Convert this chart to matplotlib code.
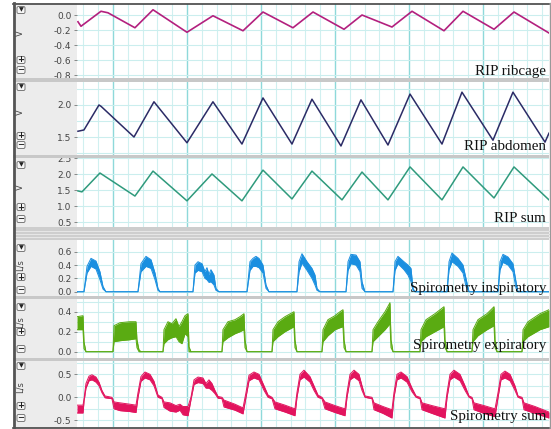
import matplotlib.pyplot as plt
from matplotlib.patches import Rectangle, FancyBboxPatch
from matplotlib.ticker import MultipleLocator, FormatStrFormatter

plt.rcParams['axes.unicode_minus'] = False

# time axis in s, one major grid line per second
T0, T1 = 0.514, 6.892

# RIP ribcage (V)
t_rib = [0.527, 0.568, 0.838, 0.932, 1.297, 1.541, 2.0, 2.351, 2.757, 3.027, 3.432,
         3.703, 4.122, 4.365, 4.770, 5.041, 5.473, 5.730, 6.149, 6.419, 6.892]
v_rib = [-0.09, -0.15, 0.05, 0.03, -0.17, 0.07, -0.23, -0.01, -0.21, 0.04, -0.17,
         0.04, -0.19, 0.00, -0.16, 0.05, -0.21, 0.05, -0.19, 0.04, -0.24]

# RIP abdomen (V)
t_abd = [0.527, 0.608, 0.811, 0.838, 1.284, 1.554, 2.0, 2.351, 2.743, 3.027, 3.419,
         3.689, 4.081, 4.351, 4.716, 5.014, 5.446, 5.716, 6.135, 6.405, 6.838, 6.892]
v_abd = [1.59, 1.61, 2.00, 1.98, 1.50, 2.05, 1.41, 2.05, 1.39, 2.11, 1.39,
         2.09, 1.36, 2.08, 1.375, 2.17, 1.39, 2.20, 1.45, 2.20, 1.42, 1.56]

# RIP sum (V)
t_sum = [0.527, 0.581, 0.824, 1.297, 1.541, 2.0, 2.338, 2.743, 3.027, 3.419, 3.689,
         4.095, 4.365, 4.716, 5.014, 5.446, 5.730, 6.149, 6.419, 6.892]
v_sum = [1.48, 1.45, 2.04, 1.32, 2.10, 1.17, 2.01, 1.17, 2.13, 1.23, 2.10,
         1.20, 2.07, 1.20, 2.23, 1.20, 2.23, 1.26, 2.23, 1.20]

# Spirometry inspiratory (L/s), upper / lower edge of the noisy band
t_insp = [0.514, 0.608, 0.649, 0.703, 0.770, 0.824, 0.865, 0.905,
          1.338, 1.378, 1.446, 1.514, 1.568, 1.608, 1.635,
          2.081, 2.108, 2.149, 2.203, 2.243, 2.270, 2.297, 2.324, 2.365, 2.392, 2.432,
          2.811, 2.851, 2.892, 2.932, 2.973, 3.027, 3.068, 3.108,
          3.486, 3.514, 3.554, 3.622, 3.689, 3.730, 3.757, 3.797,
          4.149, 4.176, 4.216, 4.284, 4.338, 4.365, 4.405,
          4.784, 4.811, 4.851, 4.932, 4.986, 5.027, 5.054, 5.081,
          5.514, 5.541, 5.581, 5.662, 5.730, 5.770, 5.811,
          6.203, 6.230, 6.270, 6.338, 6.405, 6.446, 6.473, 6.892]
insp_hi = [0, 0, .38, .50, .46, .30, .08, 0,
           0, .42, .53, .48, .28, .05, 0,
           0, .40, .45, .42, .30, .36, .26, .33, .25, .05, 0,
           0, .45, .50, .53, .50, .40, .10, 0,
           0, .45, .57, .45, .35, .25, .05, 0,
           0, .45, .56, .55, .45, .15, 0,
           0, .45, .53, .45, .40, .35, .05, 0,
           0, .45, .58, .50, .40, .20, 0,
           0, .45, .56, .52, .42, .15, 0, 0]
insp_lo = [0, 0, .28, .38, .34, .18, .04, 0,
           0, .30, .38, .35, .18, .02, 0,
           0, .28, .32, .30, .20, .18, .14, .15, .10, .02, 0,
           0, .32, .38, .38, .36, .28, .05, 0,
           0, .30, .43, .32, .20, .10, .02, 0,
           0, .32, .42, .40, .30, .05, 0,
           0, .32, .42, .33, .25, .15, .02, 0,
           0, .33, .45, .38, .28, .08, 0,
           0, .33, .44, .40, .30, .05, 0, 0]

# Spirometry expiratory (L/s)
t_exp = [0.514, 0.595, 0.608, 0.635,
         1.000, 1.014, 1.095, 1.230, 1.311, 1.324, 1.351, 1.378,
         1.676, 1.689, 1.743, 1.797, 1.851, 1.892, 1.932, 1.973, 2.014, 2.027, 2.054,
         2.473, 2.486, 2.554, 2.649, 2.716, 2.770, 2.784, 2.811,
         3.149, 3.162, 3.230, 3.324, 3.446, 3.459, 3.486,
         3.824, 3.838, 3.905, 4.000, 4.068, 4.108, 4.122, 4.149,
         4.500, 4.514, 4.581, 4.676, 4.743, 4.757, 4.784,
         5.149, 5.162, 5.230, 5.351, 5.473, 5.486, 5.514,
         5.851, 5.865, 5.932, 6.054, 6.149, 6.162, 6.189,
         6.527, 6.541, 6.608, 6.770, 6.892]
exp_hi = [.35, .36, .10, 0,
          0, .26, .29, .30, .30, .12, .02, 0,
          0, .22, .30, .28, .33, .25, .30, .36, .38, .05, 0,
          0, .22, .30, .32, .35, .38, .12, 0,
          0, .22, .30, .35, .40, .12, 0,
          0, .22, .32, .36, .40, .42, .12, 0,
          0, .22, .30, .40, .49, .12, 0,
          0, .22, .32, .38, .45, .12, 0,
          0, .22, .32, .38, .45, .12, 0,
          0, .22, .30, .38, .42]
exp_lo = [.22, .22, .03, 0,
          0, .10, .11, .12, .13, .04, 0, 0,
          0, .08, .12, .14, .15, .10, .08, .18, .15, 0, 0,
          0, .10, .14, .18, .20, .22, .04, 0,
          0, .10, .15, .20, .25, .04, 0,
          0, .10, .16, .22, .24, .25, .04, 0,
          0, .10, .15, .22, .28, .04, 0,
          0, .10, .15, .20, .25, .04, 0,
          0, .10, .16, .22, .26, .04, 0,
          0, .10, .15, .22, .25]

# Spirometry sum (L/s)
t_sp = [0.514, 0.595, 0.608, 0.635, 0.676, 0.716, 0.770, 0.811, 0.851, 0.892, 0.986,
        1.014, 1.095, 1.230, 1.311, 1.338, 1.378, 1.432, 1.500, 1.554, 1.608, 1.662,
        1.689, 1.770, 1.851, 1.905, 1.946, 2.014, 2.054, 2.095, 2.149, 2.216, 2.257,
        2.297, 2.338, 2.378, 2.419, 2.473, 2.500, 2.649, 2.757, 2.797, 2.838, 2.905,
        2.973, 3.041, 3.095, 3.149, 3.189, 3.324, 3.459, 3.486, 3.527, 3.581, 3.662,
        3.716, 3.770, 3.824, 3.865, 4.000, 4.135, 4.162, 4.203, 4.257, 4.324, 4.365,
        4.405, 4.500, 4.527, 4.649, 4.770, 4.797, 4.838, 4.892, 4.973, 5.041, 5.095,
        5.149, 5.176, 5.311, 5.486, 5.514, 5.554, 5.608, 5.689, 5.757, 5.811, 5.851,
        5.878, 6.014, 6.162, 6.203, 6.243, 6.297, 6.365, 6.432, 6.473, 6.527, 6.554,
        6.703, 6.892]
sp_hi = [-.17, -.17, -.05, .30, .46, .49, .44, .33, .15, .03, .00,
         -.10, -.12, -.15, -.17, .10, .45, .55, .50, .35, .05, .00,
         -.10, -.12, -.18, -.15, -.20, -.20, .00, .38, .44, .42, .30,
         .38, .30, .15, .02, .00, -.06, -.15, -.23, .10, .48, .55,
         .50, .25, .05, .00, -.10, -.17, -.25, .10, .50, .59, .45,
         .25, .05, .00, -.10, -.18, -.25, .10, .50, .59, .50, .25,
         .03, .00, -.12, -.20, -.27, .10, .50, .55, .45, .20, .03,
         .00, -.12, -.18, -.25, .10, .50, .59, .50, .25, .03, .00,
         -.12, -.18, -.25, .10, .50, .57, .50, .25, .03, .00, -.12,
         -.20, -.32]
sp_lo = [-.34, -.34, -.10, .20, .36, .38, .33, .25, .10, -.01, -.03,
         -.25, -.29, -.31, -.33, .00, .35, .42, .38, .25, .00, -.03,
         -.22, -.30, -.32, -.28, -.38, -.40, -.05, .28, .32, .30, .20,
         .20, .15, .08, -.02, -.03, -.21, -.28, -.36, .00, .36, .42,
         .38, .15, .00, -.03, -.25, -.32, -.40, .00, .38, .44, .33,
         .15, .00, -.03, -.25, -.33, -.40, .00, .38, .44, .36, .15,
         .00, -.03, -.27, -.35, -.45, .00, .38, .42, .33, .12, .00,
         -.03, -.27, -.35, -.45, .00, .38, .44, .36, .15, .00, -.03,
         -.27, -.35, -.42, .00, .38, .42, .36, .15, .00, -.03, -.27,
         -.35, -.45]

W, H = 551, 429
fig = plt.figure(figsize=(W / 100, H / 100), dpi=100)


def px_axes(x0, y0, x1, y1, z):
    return fig.add_axes([x0 / W, 1 - y1 / H, (x1 - x0) / W, (y1 - y0) / H], zorder=z)


# background: grey button column
bg = px_axes(0, 0, W, H, 0)
bg.set_xlim(0, W)
bg.set_ylim(H, 0)
bg.axis('off')
bg.add_patch(Rectangle((13, 3), 64, 425, color='#ececec', lw=0))

# panel layout: (top px, bottom px, ylim, yticks, grid step, unit, unit y, buttons y, name, name baseline)
panels = [
    (4, 78, (-0.84, 0.147), [-0.8, -0.6, -0.4, -0.2, 0.0], 0.2, 'V', 33, (10, 60, 70), 'RIP ribcage', 75),
    (82, 155, (1.219, 2.359), [1.5, 2.0], 0.25, 'V', 112, (87, 136, 145), 'RIP abdomen', 150),
    (158, 227, (0.353, 2.509), [0.5, 1.0, 1.5, 2.0, 2.5], 0.5, 'V', 187, (165, 207, 219), 'RIP sum', 222),
    (240, 296, (-0.064, 0.775), [0.0, 0.2, 0.4, 0.6], 0.2, 'L/s', 265, (248, 277, 290), 'Spirometry inspiratory', 292),
    (299, 358, (-0.063, 0.527), [0.0, 0.2, 0.4], 0.1, 'L/s', 322, (307, 332, 349), 'Spirometry expiratory', 349),
    (361, 427, (-0.645, 0.789), [-0.5, 0.0, 0.5], 0.25, 'L/s', 387, (366, 406, 418), 'Spirometry sum', 420),
]

axes = []
for top, bot, ylim, yt, ystep, unit, uy, btns, name, nb in panels:
    ax = px_axes(77, top, 549, bot, 1)
    ax.set_xlim(T0, T1)
    ax.set_ylim(*ylim)
    ax.set_yticks(yt)
    ax.yaxis.set_major_formatter(FormatStrFormatter('%.1f'))
    ax.yaxis.set_minor_locator(MultipleLocator(ystep))
    ax.xaxis.set_major_locator(MultipleLocator(1))
    ax.xaxis.set_minor_locator(MultipleLocator(0.2))
    ax.grid(which='major', axis='x', color='#8ed9da', lw=1.0)
    ax.grid(which='minor', axis='x', color='#d0f0f0', lw=0.8)
    ax.grid(which='both', axis='y', color='#cbeeee', lw=0.8)
    ax.set_axisbelow(True)
    ax.tick_params(axis='x', which='both', length=0, labelbottom=False)
    ax.tick_params(axis='y', which='major', length=2, width=0.6, color='#777777',
                   pad=2, labelsize=6.5, labelcolor='#444444')
    ax.tick_params(axis='y', which='minor', length=0)
    for s in ax.spines.values():
        s.set_visible(False)
    axes.append(ax)

    fig.text(20 / W, 1 - uy / H, unit, rotation=90, ha='center', va='center',
             size=6, color='#444444')
    for yb, sym in zip(btns, ['▼', '+', '−']):
        bg.add_patch(FancyBboxPatch((17, yb - 3.5), 8, 7, boxstyle='round,pad=0,rounding_size=1.5',
                                    fc='#f6f6f6', ec='#666666', lw=0.6))
        bg.text(21, yb, sym, ha='center', va='center', size=4.5 if sym == '▼' else 6,
                weight='bold', color='#222222')
    fig.text(546 / W, 1 - nb / H, name, ha='right', va='baseline',
             family='Liberation Serif', size=10.8, color='#111111')

axes[0].plot(t_rib, v_rib, color='#b3207e', lw=1.2)
axes[1].plot(t_abd, v_abd, color='#2b2b66', lw=1.1)
axes[2].plot(t_sum, v_sum, color='#2f9a7c', lw=1.1)

for ax, t, hi, lo, c in [(axes[3], t_insp, insp_hi, insp_lo, '#1a8fe0'),
                         (axes[4], t_exp, exp_hi, exp_lo, '#5aab12'),
                         (axes[5], t_sp, sp_hi, sp_lo, '#e2145e')]:
    ax.fill_between(t, lo, hi, color=c, lw=0)
    ax.plot(t, hi, color=c, lw=0.7)
    ax.plot(t, lo, color=c, lw=0.7)

# separators and frame drawn on top
fr = px_axes(0, 0, W, H, 5)
fr.set_xlim(0, W)
fr.set_ylim(H, 0)
fr.axis('off')
for y0, h in [(78, 4), (155, 3), (296, 3), (358, 3)]:
    fr.add_patch(Rectangle((13, y0), 536, h, color='#c8c8c8', lw=0))
fr.add_patch(Rectangle((13, 227), 536, 13, color='#cdcdcd', lw=0))
for ys in (230.5, 233.5, 236.5):
    fr.plot([13, 549], [ys, ys], color='#e6e6e6', lw=0.8)
fr.plot([13, 549], [3.5, 3.5], color='#444444', lw=1.2)
fr.plot([13, 549], [427.5, 427.5], color='#444444', lw=1.2)
fr.plot([13.5, 13.5], [3, 428], color='#555555', lw=2)
fr.plot([549.5, 549.5], [3, 428], color='#999999', lw=1)

fig.savefig('out.png', dpi=100)
